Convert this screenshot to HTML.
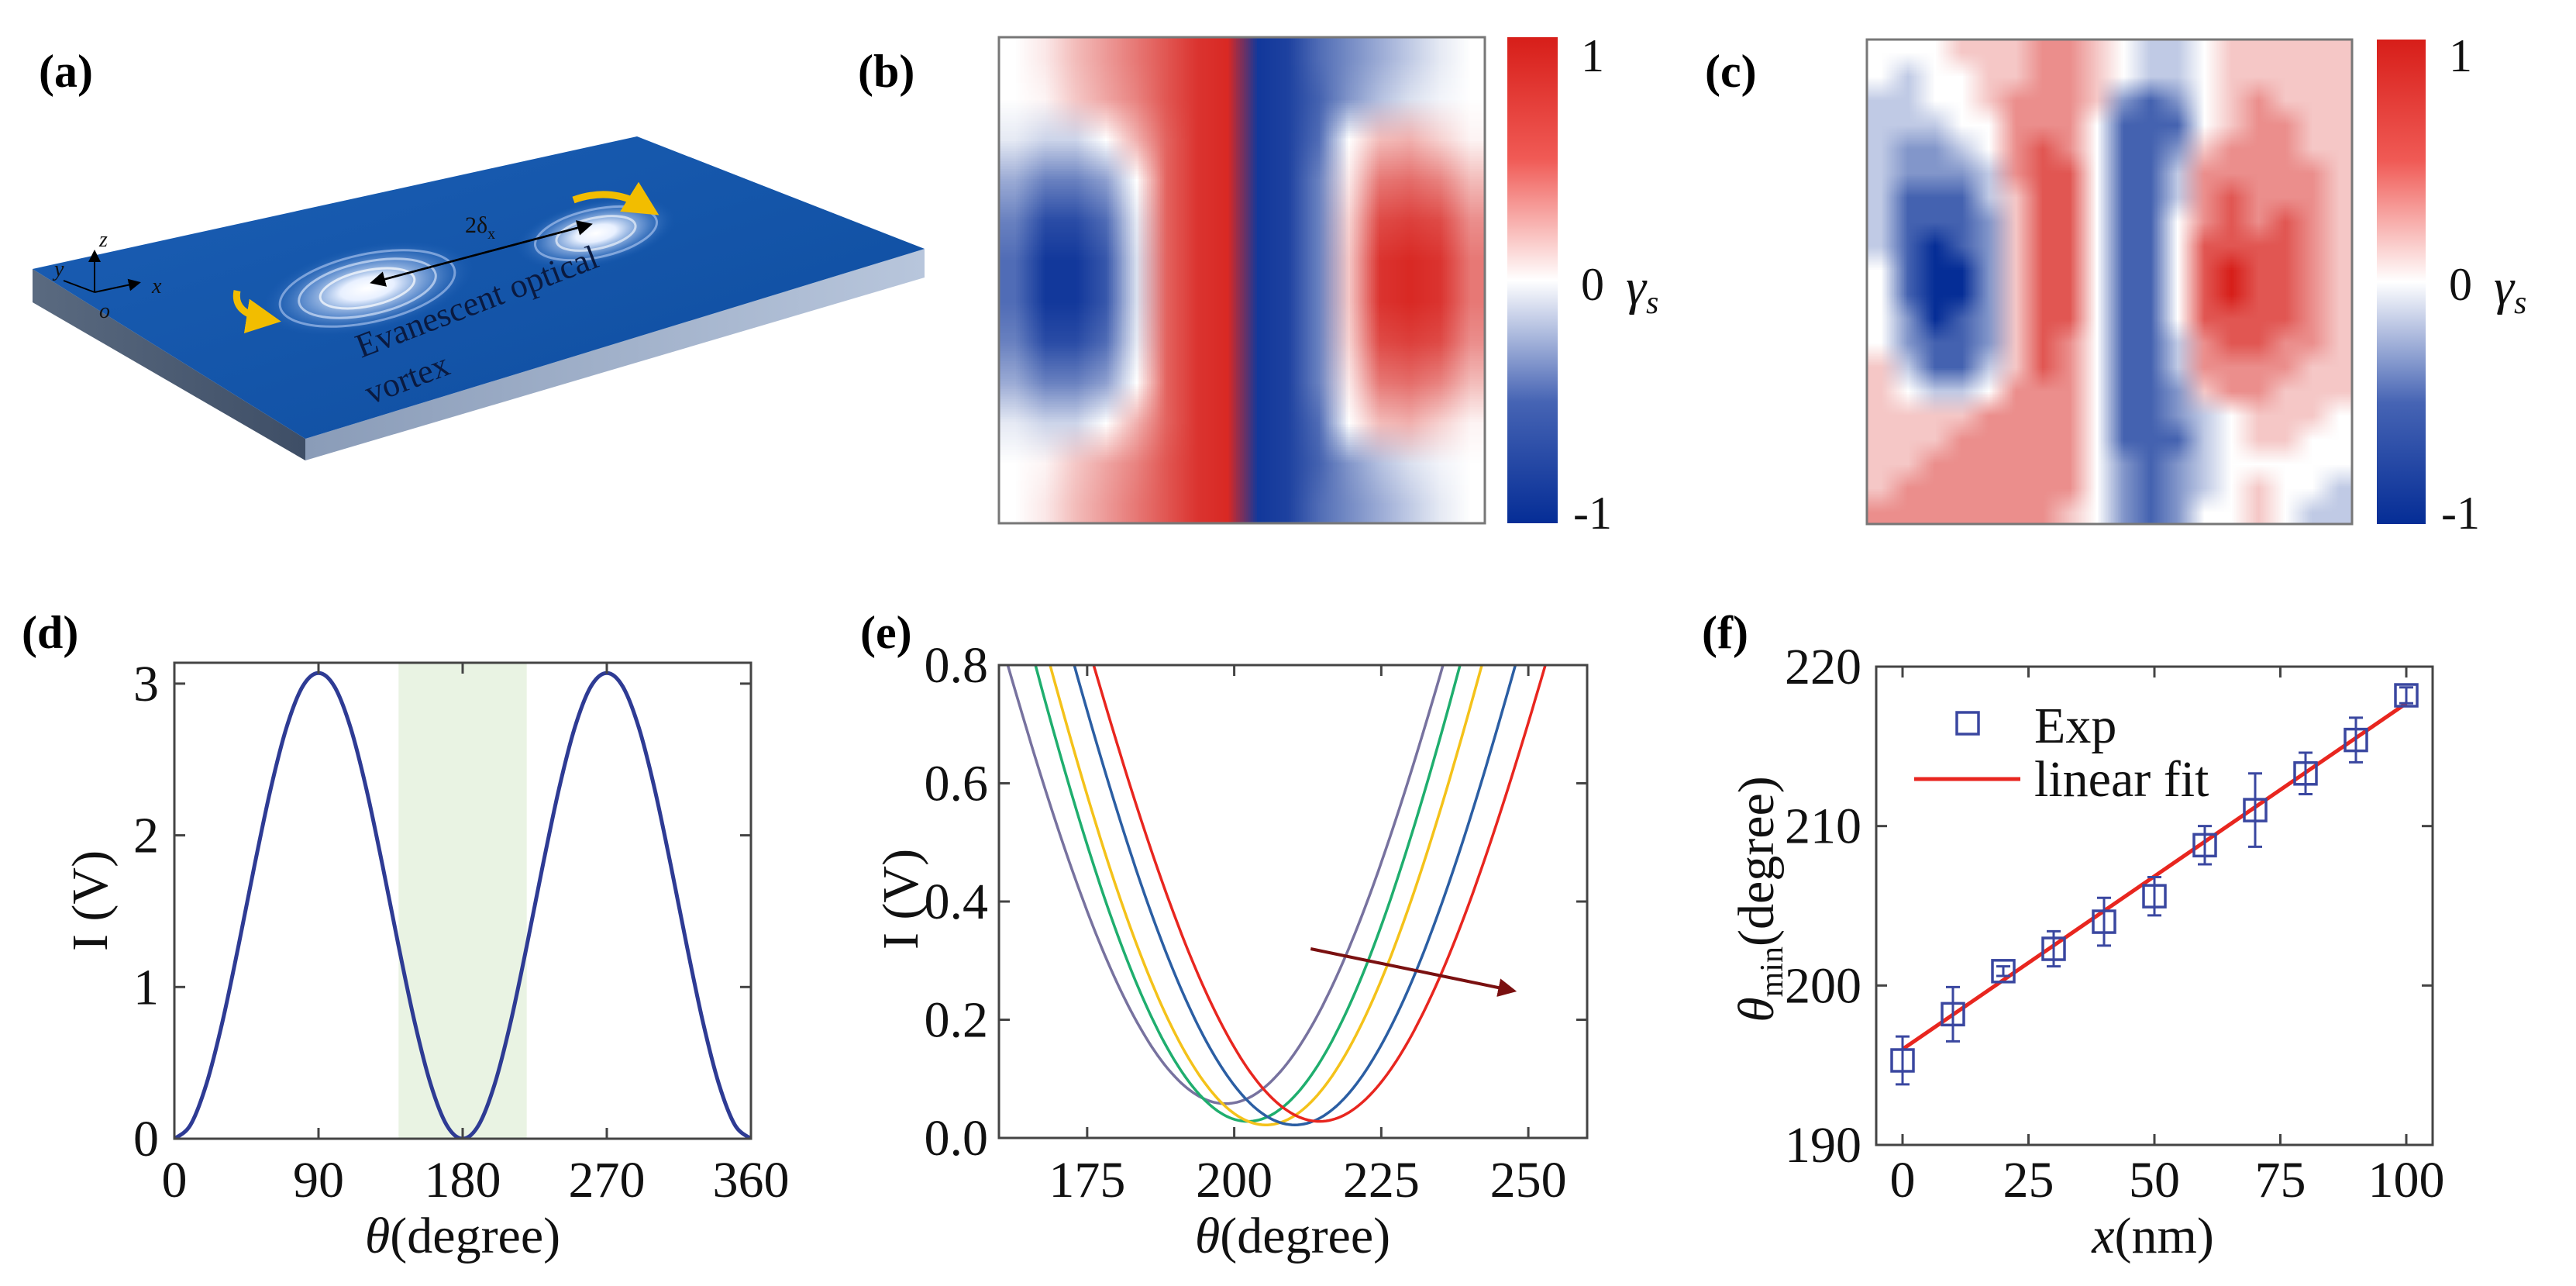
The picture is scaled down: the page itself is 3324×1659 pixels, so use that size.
<!DOCTYPE html>
<html><head><meta charset="utf-8">
<style>
html,body{margin:0;padding:0;background:#fff;}
#root{position:relative;width:3324px;height:1659px;overflow:hidden;background:#fff;font-family:"Liberation Serif","DejaVu Serif","Times New Roman",serif;}
svg{position:absolute;left:0;top:0;font-family:"Liberation Serif","DejaVu Serif","Times New Roman",serif;}
svg text{font-family:"Liberation Serif","DejaVu Serif","Times New Roman",serif;}
canvas{position:absolute;}
.cbar{position:absolute;background:linear-gradient(to bottom,rgb(215,30,25) 0%,rgb(240,90,85) 25%,#fff 50%,rgb(70,100,180) 75%,rgb(5,45,150) 100%);}
</style></head>
<body>
<div id="root">
<canvas id="hb" width="16" height="12" style="left:1289px;top:48px;width:627px;height:627px;image-rendering:auto;"></canvas>
<canvas id="hc" width="18" height="20" style="left:2409px;top:51px;width:626px;height:625px;image-rendering:auto;"></canvas>
<div class="cbar" style="left:1945px;top:48px;width:65px;height:627px;"></div>
<div class="cbar" style="left:3067px;top:51px;width:63px;height:625px;"></div>
<svg id="svg" width="3324" height="1659" viewBox="0 0 3324 1659" xmlns="http://www.w3.org/2000/svg">
<defs>
<linearGradient id="topG" x1="0" y1="0" x2="1" y2="1"><stop offset="0" stop-color="#1b5fb5"/><stop offset="1" stop-color="#0e4c9e"/></linearGradient>
<linearGradient id="sideR" x1="0" y1="0" x2="1" y2="0"><stop offset="0" stop-color="#8a9cb8"/><stop offset="1" stop-color="#b8c6dc"/></linearGradient>
<linearGradient id="sideL" x1="0" y1="0" x2="1" y2="0"><stop offset="0" stop-color="#5a6a80"/><stop offset="1" stop-color="#3e4e66"/></linearGradient>
<radialGradient id="vort"><stop offset="0" stop-color="#ffffff"/><stop offset="0.25" stop-color="#e8f0ff"/><stop offset="0.6" stop-color="#7da4dc" stop-opacity="0.7"/><stop offset="1" stop-color="#1b5fb5" stop-opacity="0"/></radialGradient>
<marker id="ah" markerWidth="8" markerHeight="8" refX="6" refY="4" orient="auto"><path d="M0,0 L8,4 L0,8 z" fill="#000"/></marker>
<marker id="ahr" markerWidth="6" markerHeight="6" refX="4" refY="3" orient="auto"><path d="M0,0 L6,3 L0,6 z" fill="#7a1010"/></marker>
<marker id="ahy" markerWidth="5" markerHeight="5" refX="3" refY="2.5" orient="auto"><path d="M0,0 L5,2.5 L0,5 z" fill="#f2bd00"/></marker>
<clipPath id="clipD"><rect x="225" y="855" width="744" height="614"/></clipPath>
<clipPath id="clipE"><rect x="1289" y="858" width="759" height="610"/></clipPath>
</defs>

<g font-weight="bold" font-size="60" fill="#000">
<text x="50" y="112">(a)</text>
<text x="1107" y="112">(b)</text>
<text x="2200" y="112">(c)</text>
<text x="28" y="836">(d)</text>
<text x="1110" y="836">(e)</text>
<text x="2196" y="836">(f)</text>
</g>

<g>
<polygon points="42,347 394,566 394,594 42,390" fill="url(#sideL)"/>
<polygon points="394,566 1193,321 1193,358 394,594" fill="url(#sideR)"/>
<polygon points="42,347 822,176 1193,321 394,566" fill="url(#topG)"/>
<g transform="translate(474,372) rotate(-12)">
<ellipse rx="140" ry="55" fill="url(#vort)"/>
<ellipse rx="115" ry="44" fill="none" stroke="#cfe0ff" stroke-opacity="0.5" stroke-width="3"/>
<ellipse rx="90" ry="34" fill="none" stroke="#e8f0ff" stroke-opacity="0.6" stroke-width="3"/>
<ellipse rx="62" ry="23" fill="none" stroke="#fff" stroke-opacity="0.7" stroke-width="3"/>
</g>
<g transform="translate(769,301) rotate(-12)">
<ellipse rx="105" ry="42" fill="url(#vort)"/>
<ellipse rx="80" ry="31" fill="none" stroke="#cfe0ff" stroke-opacity="0.5" stroke-width="3"/>
<ellipse rx="52" ry="20" fill="none" stroke="#fff" stroke-opacity="0.6" stroke-width="3"/>
</g>
<line x1="490" y1="362" x2="760" y2="290" stroke="#000" stroke-width="2.5" marker-end="url(#ah)"/>
<line x1="760" y1="290" x2="482" y2="364" stroke="#000" stroke-width="2.5" marker-end="url(#ah)"/>
<text x="600" y="300" font-size="30" fill="#111">2δ<tspan font-size="20" dy="8">x</tspan></text>
<path d="M306,375 Q300,405 345,412" fill="none" stroke="#f2bd00" stroke-width="9" marker-end="url(#ahy)"/>
<path d="M740,258 Q790,240 835,268" fill="none" stroke="#f2bd00" stroke-width="9" marker-end="url(#ahy)"/>
<g stroke="#000" stroke-width="2">
<line x1="122" y1="377" x2="122" y2="326" marker-end="url(#ah)"/>
<line x1="122" y1="377" x2="178" y2="365" marker-end="url(#ah)"/>
<line x1="122" y1="377" x2="82" y2="362"/>
</g>
<g font-style="italic" font-size="28" fill="#111">
<text x="128" y="318">z</text><text x="196" y="378">x</text><text x="70" y="356">y</text><text x="128" y="410">o</text>
</g>
<text transform="translate(466,462) rotate(-21)" font-size="44" fill="#0a1a40">Evanescent optical</text>
<text transform="translate(478,522) rotate(-21)" font-size="44" fill="#0a1a40">vortex</text>
</g>

<rect x="1289" y="48" width="627" height="627" fill="none" stroke="#777" stroke-width="3"/>
<rect x="2409" y="51" width="626" height="625" fill="none" stroke="#777" stroke-width="3"/>
<g font-size="60" fill="#111">
<text x="2040" y="92">1</text><text x="2040" y="387">0</text><text x="2030" y="682">-1</text>
<text x="2098" y="392" font-style="italic" font-size="66">γ<tspan font-size="42" dy="12">s</tspan></text>
</g>
<g font-size="60" fill="#111">
<text x="3160" y="92">1</text><text x="3160" y="387">0</text><text x="3150" y="682">-1</text>
<text x="3218" y="392" font-style="italic" font-size="66">γ<tspan font-size="42" dy="12">s</tspan></text>
</g>

<g id="gD"></g>
<g id="gE"></g>
<g id="gF"></g>
</svg>
</div>
<script>
// ---------- data: panel (d) ----------
const thetaD = [0,10,20,30,40,50,60,70,80,90,100,110,120,130,140,150,160,170,180,190,200,210,220,230,240,250,260,270,280,290,300,310,320,330,340,350,360];
const valuesD = [0,0.09,0.36,0.77,1.27,1.80,2.30,2.71,2.98,3.07,2.98,2.71,2.30,1.80,1.27,0.77,0.36,0.09,0,0.09,0.36,0.77,1.27,1.80,2.30,2.71,2.98,3.07,2.98,2.71,2.30,1.80,1.27,0.77,0.36,0.09,0];
const bandD = [140,220];
const xTicksD = [0,90,180,270,360];
const yTicksD = [0,1,2,3];
// ---------- data: panel (e) ----------
const curveColorsE = ["#77729f","#1fae6e","#f4c21a","#2b5ea3","#e8261f"];
const centersE = [198.5,202.3,205.4,210.3,214.5];
const minimaE = [0.058,0.028,0.022,0.022,0.028];
const halfWidthsE = [37,36.1,36.7,37.5,38.4];
const xTicksE = [175,200,225,250];
const yTicksE = ["0.0","0.2","0.4","0.6","0.8"];
const arrowE = [[213,0.32],[247,0.25]];
// ---------- data: panel (f) ----------
const xF = [0,10,20,30,40,50,60,70,80,90,100];
const yF = [195.3,198.2,200.9,202.3,204.0,205.6,208.8,211.0,213.3,215.4,218.2];
const errF = [1.5,1.7,0.3,1.1,1.5,1.2,1.2,2.3,1.3,1.4,0.5];
const fitF = [196.0,0.217];
const xTicksF = [0,25,50,75,100];
const yTicksF = [190,200,210,220];
// ---------- data: heatmaps ----------
const heatB = [
[0.0,0.1,0.3,0.45,0.6,0.75,0.9,0.95,-0.95,-0.9,-0.7,-0.55,-0.4,-0.25,-0.1,0.0],
[0,0.05,0.25,0.4,0.55,0.75,0.9,0.95,-0.95,-0.9,-0.75,-0.5,-0.3,-0.15,-0.05,0],
[-0.1,-0.2,-0.2,0,0.35,0.7,0.9,0.95,-0.95,-0.9,-0.7,0,0.3,0.35,0.2,0.05],
[-0.4,-0.6,-0.6,-0.45,0,0.7,0.9,0.95,-0.95,-0.9,-0.6,0.1,0.6,0.65,0.55,0.3],
[-0.6,-0.85,-0.85,-0.7,-0.1,0.7,0.9,0.95,-0.95,-0.9,-0.6,0.2,0.8,0.85,0.8,0.5],
[-0.7,-0.95,-0.95,-0.8,-0.15,0.7,0.9,0.95,-0.95,-0.9,-0.6,0.25,0.9,0.95,0.9,0.6],
[-0.7,-0.95,-0.95,-0.8,-0.15,0.7,0.9,0.95,-0.95,-0.9,-0.6,0.25,0.9,0.95,0.9,0.6],
[-0.6,-0.85,-0.85,-0.7,-0.1,0.7,0.9,0.95,-0.95,-0.9,-0.6,0.2,0.8,0.85,0.8,0.5],
[-0.4,-0.6,-0.6,-0.45,0,0.7,0.9,0.95,-0.95,-0.9,-0.6,0.1,0.6,0.65,0.55,0.3],
[-0.1,-0.2,-0.2,0,0.35,0.7,0.9,0.95,-0.95,-0.9,-0.7,0,0.3,0.35,0.2,0.05],
[0,0.05,0.25,0.4,0.55,0.75,0.9,0.95,-0.95,-0.9,-0.75,-0.5,-0.3,-0.15,-0.05,0],
[0.0,0.1,0.3,0.45,0.6,0.75,0.9,0.95,-0.95,-0.9,-0.7,-0.55,-0.4,-0.25,-0.1,0.0]];
const heatCRows = [
"444555665433455555","434455665433455555","334456665212456555","333446664111456655",
"322346764112566655","322236774113666665","311135774113676665","311125774114676765",
"310125774114777765","410025774114787765","410025774114787765","420125774114777765",
"421125764113677665","531135764113666655","543346664112566555","555566664112345554",
"555666664111345544","556666664212344444","566666664212345443","666666654212445433"];

const NS="http://www.w3.org/2000/svg";
function el(tag,attrs,parent){const e=document.createElementNS(NS,tag);for(const k in attrs)e.setAttribute(k,attrs[k]);parent.appendChild(e);return e;}
function cmap(v){v=Math.max(-1,Math.min(1,v));if(v>=0){return [255+(215-255)*v,255+(30-255)*v,255+(25-255)*v];}const t=-v;return [255+(5-255)*t,255+(45-255)*t,255+(150-255)*t];}
function drawHeat(id,grid){const c=document.getElementById(id);const ctx=c.getContext('2d');const img=ctx.createImageData(c.width,c.height);
for(let r=0;r<c.height;r++)for(let q=0;q<c.width;q++){const col=cmap(grid[r][q]);const i=(r*c.width+q)*4;img.data[i]=col[0];img.data[i+1]=col[1];img.data[i+2]=col[2];img.data[i+3]=255;}ctx.putImageData(img,0,0);}
drawHeat('hb',heatB);
drawHeat('hc',heatCRows.map(s=>s.split('').map(ch=>(parseInt(ch)-4)/4)));

function smoothPath(pts){let d="M"+pts[0][0]+","+pts[0][1];for(let i=0;i<pts.length-1;i++){const p0=pts[Math.max(0,i-1)],p1=pts[i],p2=pts[i+1],p3=pts[Math.min(pts.length-1,i+2)];
const c1=[p1[0]+(p2[0]-p0[0])/6,p1[1]+(p2[1]-p0[1])/6],c2=[p2[0]-(p3[0]-p1[0])/6,p2[1]-(p3[1]-p1[1])/6];d+=" C"+c1[0]+","+c1[1]+" "+c2[0]+","+c2[1]+" "+p2[0]+","+p2[1];}return d;}

function frame(g,L,R,T,B){const r=el('rect',{x:L,y:T,width:R-L,height:B-T,fill:'none',stroke:'#444','stroke-width':3},g);

}
function ticksX(g,vals,fx,T,B,labels,ly){vals.forEach((v,i)=>{const x=fx(v);el('line',{x1:x,y1:B,x2:x,y2:B-14,stroke:'#444','stroke-width':3},g);el('line',{x1:x,y1:T,x2:x,y2:T+14,stroke:'#444','stroke-width':3},g);
const t=el('text',{x:x,y:ly,'text-anchor':'middle','font-size':66,fill:'#111'},g);t.textContent=labels[i];

});}
function ticksY(g,vals,fy,L,R,labels,lx){vals.forEach((v,i)=>{const y=fy(v);el('line',{x1:L,y1:y,x2:L+14,y2:y,stroke:'#444','stroke-width':3},g);el('line',{x1:R,y1:y,x2:R-14,y2:y,stroke:'#444','stroke-width':3},g);
const t=el('text',{x:lx,y:y+22,'text-anchor':'end','font-size':66,fill:'#111'},g);t.textContent=labels[i];

});}

// ---------- panel d ----------
(function(){const g=document.getElementById('gD');const L=225,R=969,T=855,B=1469;
const xD=v=>L+v/360*(R-L);const yD=v=>B-v*195.7;
const band=el('rect',{x:xD(bandD[0]),y:T,width:xD(bandD[1])-xD(bandD[0]),height:B-T,fill:'#e9f3e3'},g);


const p=el('path',{d:smoothPath(thetaD.map((t,i)=>[xD(t),yD(valuesD[i])])),fill:'none',stroke:'#2e3b94','stroke-width':5,'clip-path':'url(#clipD)'},g);


frame(g,L,R,T,B);
ticksX(g,xTicksD,xD,T,B,xTicksD.map(String),1544);
ticksY(g,yTicksD,yD,L,R,yTicksD.map(String),205);
const xl=el('text',{x:597,y:1616,'text-anchor':'middle','font-size':66,fill:'#111'},g);xl.innerHTML='<tspan font-style="italic">θ</tspan>(degree)';


const yl=el('text',{transform:'translate(138,1162) rotate(-90)','text-anchor':'middle','font-size':66,fill:'#111'},g);yl.textContent='I (V)';


})();

// ---------- panel e ----------
(function(){const g=document.getElementById('gE');const L=1289,R=2048,T=858,B=1468;
const xE=v=>L+(v-160)/100*(R-L);const yE=v=>B-v/0.8*(B-T);
centersE.forEach((c,k)=>{const A=(0.8-minimaE[k])/Math.pow(Math.sin(halfWidthsE[k]*Math.PI/180),2);const pts=[];
for(let t=c-halfWidthsE[k]-3;t<=c+halfWidthsE[k]+3;t+=0.5){const s=Math.sin((t-c)*Math.PI/180);pts.push([xE(t),yE(minimaE[k]+A*s*s)]);}
const p=el('path',{d:"M"+pts.map(q=>q[0].toFixed(1)+","+q[1].toFixed(1)).join(" L"),fill:'none',stroke:curveColorsE[k],'stroke-width':3.5,'clip-path':'url(#clipE)'},g);

});
const ar=el('line',{x1:xE(arrowE[0][0]),y1:yE(arrowE[0][1]),x2:xE(arrowE[1][0]),y2:yE(arrowE[1][1]),stroke:'#7a1010','stroke-width':4,'marker-end':'url(#ahr)'},g);


frame(g,L,R,T,B);
ticksX(g,xTicksE,xE,T,B,xTicksE.map(String),1544);
ticksY(g,yTicksE.map(Number),yE,L,R,yTicksE,1275);
const xl=el('text',{x:1668,y:1616,'text-anchor':'middle','font-size':66,fill:'#111'},g);xl.innerHTML='<tspan font-style="italic">θ</tspan>(degree)';


const yl=el('text',{transform:'translate(1184,1160) rotate(-90)','text-anchor':'middle','font-size':66,fill:'#111'},g);yl.textContent='I (V)';


})();

// ---------- panel f ----------
(function(){const g=document.getElementById('gF');const L=2421,R=3139,T=860,B=1477;
const xf=v=>2455+v/100*650;const yf=v=>B-(v-190)/30*(B-T);
const fl=el('line',{x1:xf(xF[0]),y1:yf(fitF[0]),x2:xf(xF[xF.length-1]),y2:yf(fitF[0]+fitF[1]*xF[xF.length-1]),stroke:'#e8261f','stroke-width':5},g);


xF.forEach((x,i)=>{const cx=xf(x),cy=yf(yF[i]),y1=yf(yF[i]+errF[i]),y2=yf(yF[i]-errF[i]);
const eb=el('path',{d:`M${cx},${y1} L${cx},${y2} M${cx-9},${y1} L${cx+9},${y1} M${cx-9},${y2} L${cx+9},${y2}`,stroke:'#3a47a0','stroke-width':3,fill:'none'},g);


const sq=el('rect',{x:cx-14,y:cy-14,width:28,height:28,fill:'none',stroke:'#3a47a0','stroke-width':3.5},g);

});
frame(g,L,R,T,B);
ticksX(g,xTicksF,xf,T,B,xTicksF.map(String),1544);
ticksY(g,yTicksF,yf,L,R,yTicksF.map(String),2402);
const lg=el('g',{},g);


el('rect',{x:2525,y:919,width:28,height:28,fill:'none',stroke:'#3a47a0','stroke-width':3.5},lg);
const t1=el('text',{x:2625,y:958,'font-size':66,fill:'#111'},lg);t1.textContent='Exp';


el('line',{x1:2470,y1:1005,x2:2607,y2:1005,stroke:'#e8261f','stroke-width':5},lg);
const t2=el('text',{x:2625,y:1027,'font-size':66,fill:'#111'},lg);t2.textContent='linear fit';


const xl=el('text',{x:2778,y:1616,'text-anchor':'middle','font-size':66,fill:'#111'},g);xl.innerHTML='<tspan font-style="italic">x</tspan>(nm)';


const yl=el('text',{transform:'translate(2288,1160) rotate(-90)','text-anchor':'middle','font-size':66,fill:'#111'},g);yl.innerHTML='<tspan font-style="italic">θ</tspan><tspan font-size="42" dy="12">min</tspan><tspan dy="-12">(degree)</tspan>';


})();
</script>
</body></html>
